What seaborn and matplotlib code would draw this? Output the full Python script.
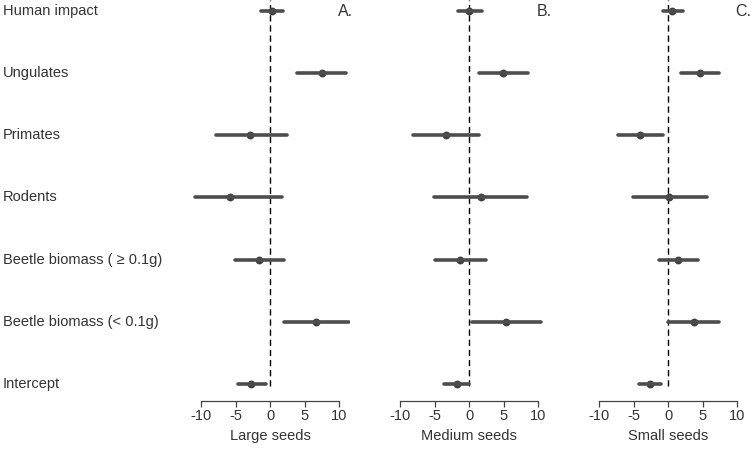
import matplotlib
matplotlib.use('Agg')
import matplotlib.pyplot as plt
import matplotlib.transforms as mtransforms
import numpy as np
import pandas as pd
import seaborn as sns

# --- data (estimate and interval ends) ---
terms = ['Human impact', 'Ungulates', 'Primates', 'Rodents',
         'Beetle biomass ( \u2265 0.1g)', 'Beetle biomass (< 0.1g)', 'Intercept']

panels = ['Large seeds', 'Medium seeds', 'Small seeds']
letters = ['A.', 'B.', 'C.']

large_est = [0.2, 7.45, -2.9, -5.8, -1.64, 6.67, -2.75]
large_lo = [-1.35, 3.83, -7.9, -10.9, -5.1, 1.99, -4.72]
large_hi = [1.88, 10.97, 2.38, 1.7, 1.99, 11.45, -0.67]

medium_est = [0.0, 4.94, -3.39, 1.65, -1.4, 5.33, -1.83]
medium_lo = [-1.69, 1.41, -8.18, -5.17, -4.99, 0.39, -3.72]
medium_hi = [1.8, 8.53, 1.45, 8.43, 2.38, 10.37, 0.0]

small_est = [0.58, 4.6, -4.06, 0.1, 1.45, 3.68, -2.65]
small_lo = [-0.72, 1.88, -7.33, -5.16, -1.4, 0.0, -4.2]
small_hi = [2.08, 7.3, -0.72, 5.6, 4.3, 7.4, -1.1]

x_ticks = [-10, -5, 0, 5, 10]

series = {
    'Large seeds': (large_lo, large_est, large_hi),
    'Medium seeds': (medium_lo, medium_est, medium_hi),
    'Small seeds': (small_lo, small_est, small_hi),
}

# long table: lo / est / hi per term, median gives est, min-max gives interval
rows = []
for panel, (lo, est, hi) in series.items():
    for t, a, b, c in zip(terms, lo, est, hi):
        for v in (a, b, c):
            rows.append({'panel': panel, 'term': t, 'value': v})
df = pd.DataFrame(rows)

# --- style ---
sns.set_theme(style='white')
plt.rcParams['font.family'] = ['Liberation Sans', 'DejaVu Sans']
plt.rcParams['axes.unicode_minus'] = False
TEXT = '#333333'
LINE = '#4d4d4d'
FS = 10.5

W, H = 755, 449
fig = plt.figure(figsize=(W / 100, H / 100), dpi=100)

# axes placement in pixels: (left, width)
lefts = [190.3, 389.3, 588.3]
ax_w = 160.0
ax_top, ax_bottom = 0.0, 390.0

axes = []
for i, panel in enumerate(panels):
    ax = fig.add_axes([lefts[i] / W, (H - ax_bottom) / H, ax_w / W, (ax_bottom - ax_top) / H])
    sub = df[df['panel'] == panel]
    sns.pointplot(data=sub, x='value', y='term', order=terms, estimator='median',
                  errorbar=lambda v: (v.min(), v.max()), linestyle='none',
                  marker='o', markersize=3.6, color='#3f3f3f',
                  err_kws={'linewidth': 2.6, 'color': LINE}, ax=ax)
    ax.axvline(0, color='black', linewidth=1.0, dashes=(4.5, 2.8), zorder=0,
               ymin=0.01, ymax=1.0)
    ax.set_xlim(-11.6, 11.6)
    ax.set_ylim(6.1, -0.18)

    for s in ['top', 'right', 'left']:
        ax.spines[s].set_visible(False)
    ax.spines['bottom'].set_position(('outward', 8))
    ax.spines['bottom'].set_bounds(-10, 10)
    ax.spines['bottom'].set_color('#444444')
    ax.spines['bottom'].set_linewidth(0.9)
    ax.set_xticks(x_ticks)
    ax.set_xticklabels([str(t) for t in x_ticks])
    ax.tick_params(axis='x', bottom=True, length=4, width=0.9, color='#444444',
                   labelsize=FS, labelcolor=TEXT, pad=2)
    ax.set_yticks([])
    ax.set_ylabel('')
    ax.set_xlabel(panel, fontsize=FS, color=TEXT, labelpad=4)
    ax.text(12.0, 0, letters[i], ha='right', va='center', fontsize=11.5,
            color=TEXT, clip_on=False)
    axes.append(ax)

# row labels at the left edge of the figure
trans = mtransforms.blended_transform_factory(fig.transFigure, axes[0].transData)
for j, t in enumerate(terms):
    fig.text(3 / W, j, t, transform=trans, ha='left', va='center',
             fontsize=FS, color=TEXT)

fig.savefig('out.png', dpi=100)
